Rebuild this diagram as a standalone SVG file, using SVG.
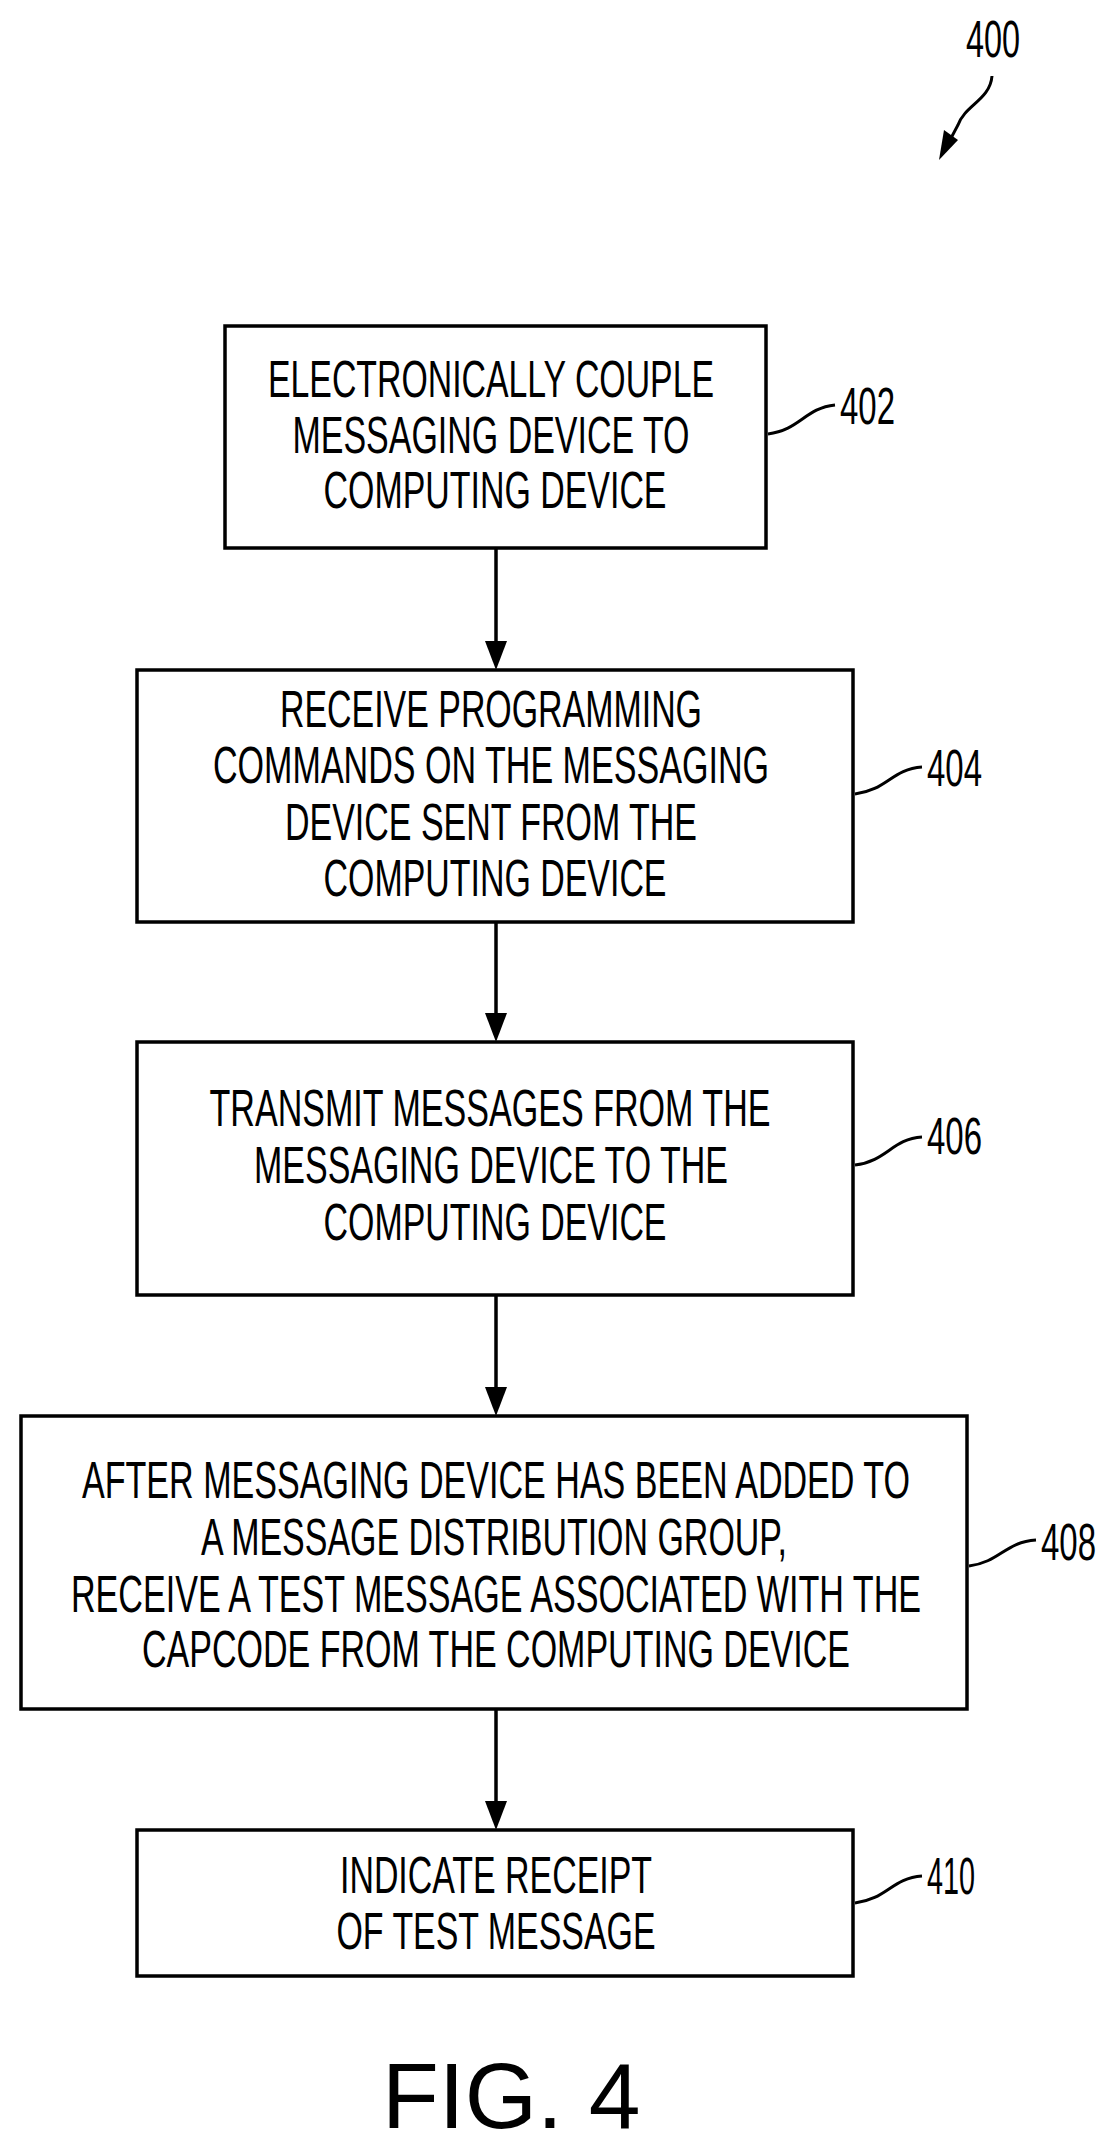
<svg xmlns="http://www.w3.org/2000/svg" width="1104" height="2149" viewBox="0 0 1104 2149">
<style>
.box{fill:#fff;stroke:#000;stroke-width:3.5}
.t{font-family:"Liberation Sans",Arial,sans-serif;font-size:51px;text-anchor:middle;fill:#000}
.lbl{font-family:"Liberation Sans",Arial,sans-serif;font-size:51px;fill:#000}
.ln{fill:none;stroke:#000;stroke-width:3.5}
.ld{fill:none;stroke:#000;stroke-width:3}
</style>
<defs>
<marker id="ah" markerWidth="22" markerHeight="30" refX="11" refY="30" orient="auto-start-reverse" markerUnits="userSpaceOnUse" viewBox="0 0 22 30">
<path d="M0,0 L22,0 L11,30 Z" fill="#000" transform="rotate(-90 11 15) translate(0 0)"/>
</marker>
</defs>
<rect width="1104" height="2149" fill="#fff"/>
<g id="ref400">
<text class="lbl" x="966" y="57" textLength="54" lengthAdjust="spacingAndGlyphs">400</text>
<path class="ld" d="M992,76 C990,100 965,105 958,125 L950,140"/>
<path d="M939,160 L944,130 L958,140 Z" fill="#000"/>
</g>
<g id="connectors">
<line class="ln" x1="496" y1="548" x2="496" y2="645"/><path d="M485,641 L507,641 L496,670 Z"/>
<line class="ln" x1="496" y1="922" x2="496" y2="1017"/><path d="M485,1013 L507,1013 L496,1042 Z"/>
<line class="ln" x1="496" y1="1295" x2="496" y2="1391"/><path d="M485,1387 L507,1387 L496,1416 Z"/>
<line class="ln" x1="496" y1="1709" x2="496" y2="1805"/><path d="M485,1801 L507,1801 L496,1830 Z"/>
</g>
<g id="n402">
<rect class="box" x="225" y="326" width="541" height="222"/>
<text class="t" x="491" y="397" textLength="446" lengthAdjust="spacingAndGlyphs">ELECTRONICALLY COUPLE</text>
<text class="t" x="491" y="453" textLength="397" lengthAdjust="spacingAndGlyphs">MESSAGING DEVICE TO</text>
<text class="t" x="495" y="508" textLength="343" lengthAdjust="spacingAndGlyphs">COMPUTING DEVICE</text>
<path class="ld" d="M768,434 C800,430 805,408 835,405"/>
<text class="lbl" x="840" y="424" textLength="55" lengthAdjust="spacingAndGlyphs">402</text>
</g>
<g id="n404">
<rect class="box" x="137" y="670" width="716" height="252"/>
<text class="t" x="491" y="727" textLength="422" lengthAdjust="spacingAndGlyphs">RECEIVE PROGRAMMING</text>
<text class="t" x="491" y="783" textLength="556" lengthAdjust="spacingAndGlyphs">COMMANDS ON THE MESSAGING</text>
<text class="t" x="491" y="840" textLength="412" lengthAdjust="spacingAndGlyphs">DEVICE SENT FROM THE</text>
<text class="t" x="495" y="896" textLength="343" lengthAdjust="spacingAndGlyphs">COMPUTING DEVICE</text>
<path class="ld" d="M855,794 C887,790 892,769 922,767"/>
<text class="lbl" x="927" y="786" textLength="55" lengthAdjust="spacingAndGlyphs">404</text>
</g>
<g id="n406">
<rect class="box" x="137" y="1042" width="716" height="253"/>
<text class="t" x="490" y="1126" textLength="561" lengthAdjust="spacingAndGlyphs">TRANSMIT MESSAGES FROM THE</text>
<text class="t" x="491" y="1183" textLength="474" lengthAdjust="spacingAndGlyphs">MESSAGING DEVICE TO THE</text>
<text class="t" x="495" y="1240" textLength="343" lengthAdjust="spacingAndGlyphs">COMPUTING DEVICE</text>
<path class="ld" d="M855,1165 C887,1161 892,1139 922,1137"/>
<text class="lbl" x="927" y="1154" textLength="55" lengthAdjust="spacingAndGlyphs">406</text>
</g>
<g id="n408">
<rect class="box" x="21" y="1416" width="946" height="293"/>
<text class="t" x="496" y="1498" textLength="828" lengthAdjust="spacingAndGlyphs">AFTER MESSAGING DEVICE HAS BEEN ADDED TO</text>
<text class="t" x="494" y="1555" textLength="586" lengthAdjust="spacingAndGlyphs">A MESSAGE DISTRIBUTION GROUP,</text>
<text class="t" x="496" y="1612" textLength="850" lengthAdjust="spacingAndGlyphs">RECEIVE A TEST MESSAGE ASSOCIATED WITH THE</text>
<text class="t" x="496" y="1667" textLength="708" lengthAdjust="spacingAndGlyphs">CAPCODE FROM THE COMPUTING DEVICE</text>
<path class="ld" d="M969,1566 C1000,1562 1005,1542 1036,1540"/>
<text class="lbl" x="1041" y="1560" textLength="55" lengthAdjust="spacingAndGlyphs">408</text>
</g>
<g id="n410">
<rect class="box" x="137" y="1830" width="716" height="146"/>
<text class="t" x="496" y="1893" textLength="312" lengthAdjust="spacingAndGlyphs">INDICATE RECEIPT</text>
<text class="t" x="496" y="1949" textLength="319" lengthAdjust="spacingAndGlyphs">OF TEST MESSAGE</text>
<path class="ld" d="M855,1903 C887,1899 892,1878 922,1876"/>
<text class="lbl" x="927" y="1894" textLength="48" lengthAdjust="spacingAndGlyphs">410</text>
</g>
<text class="lbl" x="382" y="2128" font-size="93" style="font-size:93px">FIG. 4</text>
</svg>
